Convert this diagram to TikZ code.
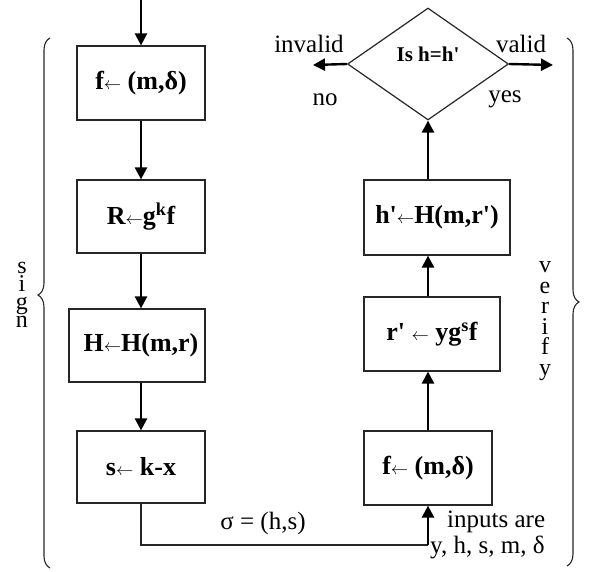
\documentclass[tikz,border=0pt]{standalone}
\usepackage{fontspec}
\setmainfont{Liberation Serif}[Ligatures=TeXOff]
\usetikzlibrary{arrows.meta,decorations.pathreplacing,shapes.geometric}
\newcommand\myarr{{\fontsize{19}{20}\selectfont$\leftarrow$}}
\begin{document}
\begin{tikzpicture}[x=1pt,y=-1pt,
  box/.style={draw=black!85,line width=1.2pt,minimum width=#1,minimum height=74pt,inner sep=0pt},
  btext/.style={font=\fontsize{26}{28}\selectfont\bfseries,inner sep=0pt},
  txt/.style={font=\fontsize{25}{28}\selectfont,inner sep=0pt},
  letter/.style={font=\fontsize{24}{24}\selectfont,inner sep=0pt,anchor=base,text height=11pt,text depth=1pt},
  arr/.style={line width=2.4pt,-{Triangle[length=12pt,width=12pt]}},
  thinline/.style={line width=1.2pt,draw=black!85},
  bracestyle/.style={line width=1.1pt,draw=black!85,decorate}
]
\useasboundingbox (0,0) rectangle (594,572);

% sign column
\node[box=128pt] (b1) at (141,83) {};
\node[btext] (t1) at (b1.center) {f\myarr\ (m,δ)};
\node[box=128pt,minimum height=73pt] (b2) at (141,216.5) {};
\node[btext] (t2) at (b2.center) {R\myarr g\textsuperscript{k}f};
\node[box=136pt,minimum height=73pt] (b3) at (137,345.5) {};
\node[btext] (t3) at ([xshift=4pt]b3.center) {H\myarr H(m,r)};
\node[box=128pt,minimum height=72pt] (b4) at (141,467) {};
\node[btext] (t4) at (b4.center) {s\myarr\ k-x};

\coordinate (start) at (141,0);
\draw[arr] (start) -- (b1.north);
\draw[arr] (b1.south) -- (b2.north);
\draw[arr] (b2.south) -- (b3.north -| b2.south);
\draw[arr] (b3.south -| b4.north) -- (b4.north);

% verify column
\node[diamond,draw=black!85,line width=1.2pt,minimum width=161pt,minimum height=112pt,inner sep=0pt] (dia) at (428,64) {};
\node[font=\fontsize{21}{24}\selectfont\bfseries,inner sep=0pt,anchor=base] (dt) at (428,62) {Is h=h'};
\node[box=146pt,minimum height=75pt] (hp) at (437,217.5) {};
\node[btext] (t5) at (hp.center) {h'\myarr H(m,r')};
\node[box=136pt] (rp) at (432,334) {};
\node[btext] (t6) at (rp.center) {r' \myarr\ yg\textsuperscript{s}f};
\node[box=128pt] (f2) at (428,468) {};
\node[btext] (t7) at (f2.center) {f\myarr\ (m,δ)};

\draw[arr] (f2.north) -- (rp.south -| f2.north);
\draw[arr] (rp.north -| f2.north) -- (hp.south -| f2.north);
\draw[arr] (hp.north -| dia.south) -- (dia.south);

\coordinate (inv) at (313,65);
\coordinate (val) at (553,65);
\draw[arr] (dia.west) -- (inv);
\draw[arr] (dia.east) -- (val);
\node[txt,anchor=base] (linv) at (309,53) {invalid};
\node[txt,anchor=base] (lval) at (521,53) {valid};
\node[txt,anchor=base] (lno) at (325,106) {no};
\node[txt,anchor=base] (lyes) at (505,103) {yes};

% bottom connector
\coordinate (corner) at (428,545);
\draw[thinline] (b4.south) |- (corner);
\draw[arr] (corner) -- (f2.south);
\node[txt,anchor=base] (lsig) at (263,529) {σ = (h,s)};
\node[txt,anchor=base west] (lin1) at (447,527) {inputs are};
\node[txt,anchor=base west] (lin2) at (430,553) {y, h, s, m, δ};

% braces
\draw[bracestyle,decoration={brace,amplitude=12pt,aspect=0.515}] (50,568) -- (50,38);
\draw[bracestyle,decoration={brace,amplitude=12pt,aspect=0.5}] (567,38) -- (567,566);
\foreach \c [count=\i] in {s,i,g,n}
  \node[letter] (sign\i) at (22,{255+18*\i}) {\c};
\foreach \c [count=\i] in {v,e,r,i,f,y}
  \node[letter] (ver\i) at (545,{252+20.5*\i}) {\c};
\end{tikzpicture}
\end{document}
